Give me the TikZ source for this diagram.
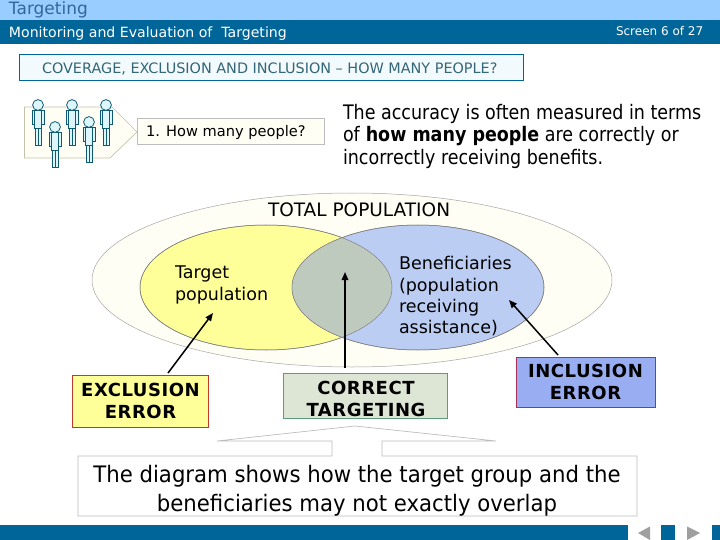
\documentclass[tikz,border=0pt]{standalone}
\usepackage{fontspec}
\setmainfont{DejaVu Sans}
\newfontfamily\narrowfont{DejaVu Sans}[FakeStretch=0.875]
\newfontfamily\midfont{DejaVu Sans}[FakeStretch=0.935]
\newfontfamily\spacedbold{DejaVu Sans Bold}[LetterSpace=3]
\usetikzlibrary{shapes.geometric,arrows.meta}
\newcommand{\fs}[2]{\fontsize{#1}{#2}\selectfont}
\definecolor{bandlight}{HTML}{99CCFF}
\definecolor{banddark}{HTML}{006699}
\definecolor{apptext}{HTML}{336699}
\definecolor{titlefg}{HTML}{336677}
\definecolor{titlebg}{HTML}{F2FAFD}
\definecolor{grayline}{HTML}{BDBDBD}
\definecolor{yel}{HTML}{FFFF99}
\definecolor{blu}{HTML}{BCCDF4}
\definecolor{lens}{HTML}{BFCABF}
\definecolor{cream}{HTML}{FFFEF4}
\definecolor{corfill}{HTML}{DDE5D5}
\definecolor{corline}{HTML}{5C9C7C}
\definecolor{infill}{HTML}{99AEF2}
\definecolor{inline}{HTML}{A83058}
\definecolor{exline}{HTML}{C0392B}
\definecolor{personline}{HTML}{0F5A73}
\definecolor{personfill}{HTML}{DDF6FC}
\tikzset{
  txt/.style={inner sep=0pt,outer sep=0pt,anchor=north west,align=left},
  ctxt/.style={inner sep=0pt,outer sep=0pt,align=center},
  venn/.style={ellipse,draw=#1,inner sep=0pt,line width=0.5pt},
  errbox/.style={rectangle,inner sep=0pt,line width=0.8pt,align=center,font=\fs{18}{21.5}\spacedbold},
  ptr/.style={-{Triangle[length=8pt,width=6.5pt]},line width=1.5pt,black},
  navbtn/.style={fill=white,draw=none},
  navtri/.style={fill=gray!75,draw=none},
  person/.style={draw=personline,fill=personfill,line width=0.8pt},
}
\newcommand{\persondraw}[2]{%
  \begin{scope}[shift={(#1,#2)}]
    \draw[person] (-6,5) rectangle (-3.5,19);
    \draw[person] (3.5,5) rectangle (6,19);
    \draw[person] (-3.5,5) rectangle (3.5,23);
    \draw[person] (-3,23) rectangle (0,40);
    \draw[person] (0,23) rectangle (3,40);
    \draw[person] (0,0) circle (5.4);
  \end{scope}}
\begin{document}
\begin{tikzpicture}[x=1pt,y=-1pt]
\useasboundingbox (0,0) rectangle (720,540);
\fill[white] (0,0) rectangle (720,540);
% header
\fill[bandlight] (0,0) rectangle (720,20);
\fill[banddark] (0,20) rectangle (720,44);
\node[txt,text=apptext,font=\fs{17}{20}] (apptitle) at (9,1.5) {Targeting};
\node[txt,text=white,font=\fs{14.1}{17}] (section) at (9,27) {Monitoring and Evaluation of\ \ Targeting};
\node[txt,text=white,font=\fs{12}{14}] (screen) at (616,26) {Screen 6 of 27};
% title
\node[rectangle,draw=banddark,fill=titlebg,line width=0.7pt,minimum width=504pt,minimum height=26pt,inner sep=0pt] (titlebox) at (271,67) {};
\node[txt,text=titlefg,font=\fs{14.4}{17}] (titletext) at (42,62.5) {COVERAGE, EXCLUSION AND INCLUSION – HOW MANY PEOPLE?};
% pentagon + people
\draw[draw=grayline!90!yellow,fill=cream,line width=0.7pt] (24.5,107) -- (112,107) -- (137,132) -- (110,158) -- (24.5,158) -- cycle;
\persondraw{38}{105}
\persondraw{72}{105}
\persondraw{106}{105}
\persondraw{55}{127}
\persondraw{89}{122}
\node[rectangle,draw=grayline,fill=cream,line width=0.7pt,minimum width=187pt,minimum height=26pt,inner sep=0pt] (howbox) at (230.5,131) {};
\node[txt,font=\fs{14.6}{17}] (howtext) at (146,125) {1. How many people?};
% intro text
\node[txt,font=\fs{20}{22.5}\narrowfont] (intro) at (343,104) {The accuracy is often measured in terms\\of \textbf{how many people} are correctly or\\incorrectly receiving benefits.};
% venn
\node[venn=gray!70,fill=cream,minimum width=520pt,minimum height=174pt] (total) at (352,280) {};
\node[venn=gray,fill=yel,minimum width=252pt,minimum height=125pt] (target) at (266,287.5) {};
\node[venn=gray,fill=blu,minimum width=252pt,minimum height=125pt] (benef) at (418,287.5) {};
\begin{scope}
  \clip (266,287.5) ellipse [x radius=126,y radius=62.5];
  \fill[lens] (418,287.5) ellipse [x radius=126,y radius=62.5];
\end{scope}
\draw[gray,line width=0.5pt] (266,287.5) ellipse [x radius=126,y radius=62.5];
\draw[gray,line width=0.5pt] (418,287.5) ellipse [x radius=126,y radius=62.5];
\node[txt,font=\fs{18.5}{21}] (totaltext) at (268,202.5) {TOTAL POPULATION};
\node[txt,font=\fs{17.5}{22}] (targettext) at (175,266) {Target\\population};
\node[txt,font=\fs{17.5}{21.3}] (beneftext) at (399,256.5) {Beneficiaries\\(population\\receiving\\assistance)};
% error boxes
\node[errbox,draw=exline,fill=yel,minimum width=136.5pt,minimum height=52pt] (exbox) at (140.5,401) {EXCLUSION\\ERROR};
\node[rectangle,draw=corline,fill=corfill,line width=0.8pt,minimum width=163.5pt,minimum height=45pt,inner sep=0pt] (corbox) at (365.5,395.5) {};
\node[ctxt,font=\fs{18}{21.5}\spacedbold] (cortext) at (366,399) {CORRECT\\TARGETING};
\node[errbox,draw=inline,fill=infill,minimum width=139pt,minimum height=50pt] (inbox) at (585.5,382) {INCLUSION\\ERROR};
% arrows
\coordinate (extip) at (213,313);
\coordinate (exstart) at (168,373);
\coordinate (cortip) at (345,272);
\coordinate (corstart) at (345,368);
\coordinate (intip) at (509,300);
\coordinate (instart) at (558,355);
\draw[ptr] (exstart) -- (extip);
\draw[ptr] (corstart) -- (cortip);
\draw[ptr] (instart) -- (intip);
% callout
\draw[draw=grayline,fill=white,line width=0.7pt] (78,456) -- (332,456) -- (332,441) -- (217,441) -- (355,426) -- (496,441) -- (382,441) -- (382,456) -- (637,456) -- (637,516) -- (78,516) -- cycle;
\node[ctxt,font=\fs{22.7}{29}\midfont] (calltext) at (357,490.5) {The diagram shows how the target group and the\\beneficiaries may not exactly overlap};
% footer
\fill[banddark] (0,525) rectangle (720,540);
\fill[navbtn] (628,525) rectangle (661,540);
\fill[navbtn] (675,525) rectangle (712,540);
\fill[navtri] (638,533) -- (650,526.5) -- (650,540) -- cycle;
\fill[navtri] (687,526.5) -- (700,533) -- (687,540) -- cycle;
\end{tikzpicture}
\end{document}
